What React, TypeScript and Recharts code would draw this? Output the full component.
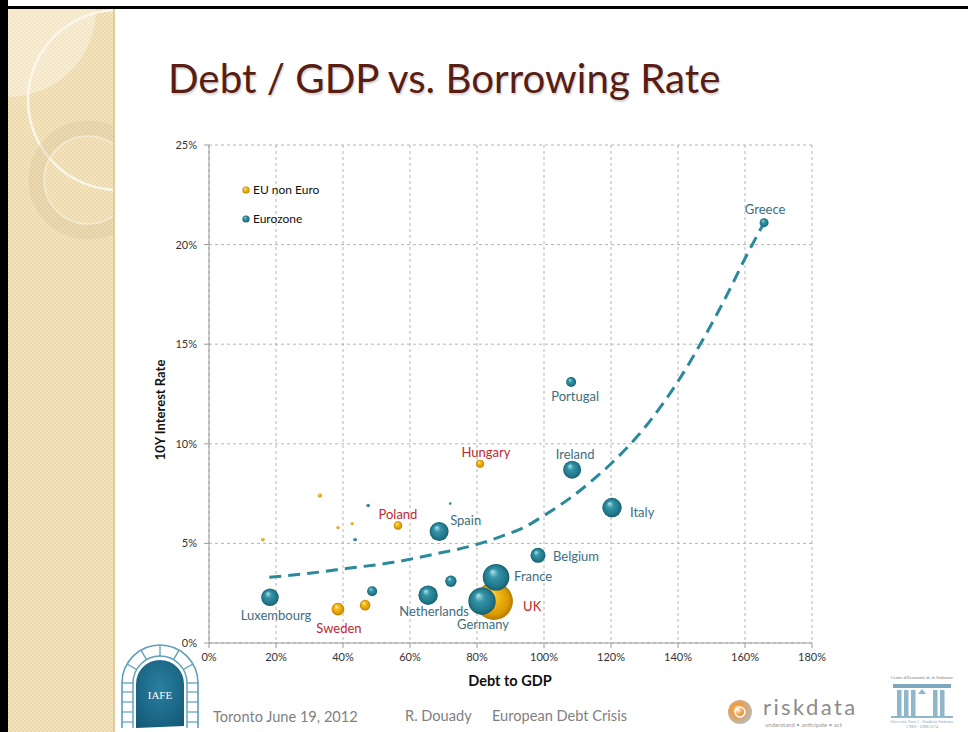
import React from 'react';
import { ComposedChart, Scatter, Line, XAxis, YAxis, ZAxis, CartesianGrid } from 'recharts';

// ---------- data ----------
const euroNames = ['Greece', 'Portugal', 'Ireland', 'Italy', 'Belgium', 'Spain', 'France', 'Germany', 'Netherlands', 'Luxembourg', '', '', '', '', ''];
const euroDebt = [165.7, 108.1, 108.4, 120.3, 98.2, 68.7, 85.7, 81.5, 65.4, 18.2, 72.2, 48.7, 47.5, 43.6, 72.0];
const euroRate = [21.1, 13.1, 8.7, 6.8, 4.4, 5.6, 3.3, 2.1, 2.4, 2.3, 3.1, 2.6, 6.9, 5.2, 7.0];
const euroWeight = [20, 25, 81, 94, 56, 90, 177, 188, 94, 77, 32, 25, 3, 3.2, 1.5];

const nonEuroNames = ['UK', 'Hungary', 'Poland', 'Sweden', '', '', '', '', ''];
const nonEuroDebt = [85.1, 80.9, 56.4, 38.5, 46.6, 33.1, 16.1, 38.5, 42.7];
const nonEuroRate = [2.1, 9.0, 5.9, 1.7, 1.9, 7.4, 5.2, 5.8, 6.0];
const nonEuroWeight = [353, 16, 18, 40, 28, 4, 3, 2.3, 2.3];

const trendDebt = [18, 30, 41.5, 55, 67, 80, 88, 94, 100, 108, 114, 120, 128, 135, 141, 148, 155, 160, 165.7];
const trendRate = [3.3, 3.5, 3.75, 4.05, 4.45, 4.95, 5.4, 5.8, 6.4, 7.3, 8.1, 9.0, 10.4, 11.9, 13.4, 15.4, 17.6, 19.3, 21.1];

const xTicks = [0, 20, 40, 60, 80, 100, 120, 140, 160, 180];
const yTicks = [0, 5, 10, 15, 20, 25];

const euroData = euroNames.map((name, i) => ({ name, x: euroDebt[i], y: euroRate[i], z: euroWeight[i] }));
const nonEuroData = nonEuroNames.map((name, i) => ({ name, x: nonEuroDebt[i], y: nonEuroRate[i], z: nonEuroWeight[i] }));
const trendData = trendDebt.map((x, i) => ({ x, y: trendRate[i] }));

// ---------- styles ----------
const FONT = 'Lato, "Open Sans", sans-serif';
const TEAL_LINE = '#2a8a9b';
const TEAL_TEXT = '#3d6e80';
const RED_TEXT = '#c2272d';

const LABELS: Record<string, { dx: number; dy: number; anchor: 'start' | 'middle' | 'end' }> = {
  Greece: { dx: 1, dy: -14, anchor: 'middle' },
  Portugal: { dx: 4, dy: 14, anchor: 'middle' },
  Ireland: { dx: 3, dy: -16, anchor: 'middle' },
  Italy: { dx: 18, dy: 4, anchor: 'start' },
  Belgium: { dx: 15, dy: 1, anchor: 'start' },
  Spain: { dx: 11, dy: -11, anchor: 'start' },
  France: { dx: 18, dy: -1, anchor: 'start' },
  Germany: { dx: 1, dy: 23, anchor: 'middle' },
  Netherlands: { dx: 6, dy: 16, anchor: 'middle' },
  Luxembourg: { dx: 6, dy: 18, anchor: 'middle' },
  UK: { dx: 29, dy: 5, anchor: 'start' },
  Sweden: { dx: 1, dy: 19, anchor: 'middle' },
  Poland: { dx: 0, dy: -11, anchor: 'middle' },
  Hungary: { dx: 6, dy: -12, anchor: 'middle' },
};

const makeBubble = (grad: string, textColor: string) => (props: any) => {
  const { cx, cy, width, payload } = props;
  if (cx == null || cy == null) return <g />;
  const r = Math.max((width || 2) / 2, 1.2);
  const lab = payload && LABELS[payload.name];
  return (
    <g>
      <circle cx={cx} cy={cy} r={r} fill={`url(#${grad})`} />
      {lab && (
        <text
          x={cx + lab.dx}
          y={cy + lab.dy}
          textAnchor={lab.anchor}
          dominantBaseline="central"
          fill={textColor}
          fontSize={13}
          fontFamily={FONT}
        >
          {payload.name}
        </text>
      )}
    </g>
  );
};

const TealBubble = makeBubble('gradTeal', TEAL_TEXT);
const GoldBubble = makeBubble('gradGold', RED_TEXT);

const Background = () => (
  <svg width={968} height={732} style={{ position: 'absolute', left: 0, top: 0 }}>
    <defs>
      <pattern id="chk" width={4} height={4} patternUnits="userSpaceOnUse">
        <rect width={4} height={4} fill="#f4e5c0" />
        <rect width={2} height={2} fill="#ebd8ab" />
        <rect x={2} y={2} width={2} height={2} fill="#ebd8ab" />
      </pattern>
      <clipPath id="panelClip">
        <rect x={8} y={9} width={107} height={723} />
      </clipPath>
      <radialGradient id="iafeDoor" cx="0.5" cy="0.4" r="0.7">
        <stop offset="0" stopColor="#2a7fa0" />
        <stop offset="1" stopColor="#145a78" />
      </radialGradient>
      <radialGradient id="rdLogo" cx="0.4" cy="0.4" r="0.6">
        <stop offset="0" stopColor="#ffffff" />
        <stop offset="0.35" stopColor="#f39a3c" />
        <stop offset="1" stopColor="#b8b8b8" />
      </radialGradient>
    </defs>
    <rect x={0} y={0} width={968} height={732} fill="#ffffff" />
    <rect x={8} y={9} width={107} height={723} fill="url(#chk)" />
    <g clipPath="url(#panelClip)">
      <circle cx={8} cy={9} r={88} fill="#faf2de" opacity={0.6} />
      <circle cx={118} cy={100} r={90} fill="none" stroke="#fbf6ea" strokeWidth={2.5} />
      <circle cx={88} cy={180} r={52} fill="none" stroke="#d8c39a" strokeWidth={15} opacity={0.35} />
      <circle cx={88} cy={180} r={44} fill="none" stroke="#f8efda" strokeWidth={1.5} opacity={0.7} />
    </g>
    <rect x={113} y={9} width={2} height={723} fill="#e0cc9e" />
    <rect x={0} y={6} width={968} height={3} fill="#000" />
    <rect x={0} y={0} width={8} height={732} fill="#000" />

    {/* IAFE logo */}
    <g>
      <path d="M136,728 L136,684 A24,24 0 0 1 184,684 L184,726 Z" fill="url(#iafeDoor)" />
      <path d="M122,728 L122,683 A38,38 0 0 1 198,683 L198,728" fill="none" stroke="#5d9fb8" strokeWidth={1.6} />
      <path d="M133,728 L133,683 A27,27 0 0 1 187,683 L187,728" fill="none" stroke="#5d9fb8" strokeWidth={1.4} />
      {[0, 1, 2, 3, 4, 5, 6].map((k) => {
        const a = Math.PI - (k * Math.PI) / 6;
        return (
          <line
            key={k}
            x1={160 + 27 * Math.cos(a)}
            y1={683 - 27 * Math.sin(a)}
            x2={160 + 38 * Math.cos(a)}
            y2={683 - 38 * Math.sin(a)}
            stroke="#5d9fb8"
            strokeWidth={1.3}
          />
        );
      })}
      {[692, 702, 712, 722].map((yy) => (
        <g key={yy}>
          <line x1={122} y1={yy} x2={133} y2={yy} stroke="#5d9fb8" strokeWidth={1.2} />
          <line x1={187} y1={yy} x2={198} y2={yy} stroke="#5d9fb8" strokeWidth={1.2} />
        </g>
      ))}
      <text x={160} y={699} textAnchor="middle" fill="#ffffff" fontSize={11} fontFamily="'Liberation Serif', serif">IAFE</text>
    </g>

    {/* footer */}
    <text x={213} y={722} fill="#7f7f7f" fontSize={14.6} fontFamily={FONT}>Toronto June 19, 2012</text>
    <text x={405} y={721} fill="#7f7f7f" fontSize={14.6} fontFamily={FONT}>R. Douady</text>
    <text x={492} y={721} fill="#7f7f7f" fontSize={14.6} fontFamily={FONT}>European Debt Crisis</text>

    {/* riskdata logo */}
    <circle cx={740} cy={712} r={12} fill="url(#rdLogo)" />
    <circle cx={740} cy={712} r={5} fill="none" stroke="#ffffff" strokeWidth={1.5} />
    <text x={763} y={715} fill="#8c8c8c" fontSize={22} fontFamily={FONT} letterSpacing={2.4}>riskdata</text>
    <text x={765} y={727} fill="#9a9a9a" fontSize={6} fontFamily={FONT}>understand • anticipate • act</text>

    {/* Sorbonne logo */}
    <text x={922} y={679} textAnchor="middle" fill="#777" fontSize={4.5} fontFamily="'Liberation Serif', serif">Centre d'Economie de la Sorbonne</text>
    <rect x={893} y={684} width={58} height={4} fill="#7fa8be" />
    {[897, 904, 911, 933, 940].map((xx) => (
      <rect key={xx} x={xx} y={690} width={4.5} height={26} fill="#8fb6ca" />
    ))}
    <path d="M918,694 L926,694 L922,689 Z" fill="#8fb6ca" />
    <rect x={891} y={716} width={62} height={2} fill="#8fb6ca" />
    <text x={922} y={723} textAnchor="middle" fill="#7fa8be" fontSize={4} fontFamily="'Liberation Serif', serif">Université Paris 1 - Panthéon Sorbonne</text>
    <text x={922} y={728} textAnchor="middle" fill="#7fa8be" fontSize={4} fontFamily="'Liberation Serif', serif">CNRS - UMR 8174</text>
  </svg>
);

export default function App() {
  return (
    <div style={{ position: 'absolute', left: 0, top: 0, width: 968, height: 732, overflow: 'hidden', fontFamily: FONT }}>
      <Background />
      <div
        style={{
          position: 'absolute',
          left: 168,
          top: 52,
          fontSize: 40.3,
          color: '#5a1d13',
          fontFamily: FONT,
          whiteSpace: 'nowrap',
          textShadow: '1px 2px 2px rgba(0,0,0,0.18)',
          lineHeight: '52px',
        }}
      >
        Debt / GDP vs. Borrowing Rate
      </div>
      <div style={{ position: 'absolute', left: 0, top: 0 }}>
        <ComposedChart width={968} height={732} margin={{ top: 145, right: 156, bottom: 59, left: 169 }}>
          <defs>
            <radialGradient id="gradTeal" cx="0.5" cy="0.5" r="0.5" fx="0.36" fy="0.28">
              <stop offset="0" stopColor="#b5e3ea" />
              <stop offset="0.35" stopColor="#3595a8" />
              <stop offset="0.8" stopColor="#21778a" />
              <stop offset="1" stopColor="#1a5e6e" />
            </radialGradient>
            <radialGradient id="gradGold" cx="0.5" cy="0.5" r="0.5" fx="0.36" fy="0.28">
              <stop offset="0" stopColor="#fff3b0" />
              <stop offset="0.35" stopColor="#f5bd1c" />
              <stop offset="0.8" stopColor="#dc9a00" />
              <stop offset="1" stopColor="#b47a00" />
            </radialGradient>
          </defs>
          <CartesianGrid stroke="#b5b5b5" strokeDasharray="3 3" />
          <XAxis
            type="number"
            dataKey="x"
            domain={[0, 180]}
            ticks={xTicks}
            tickFormatter={(v: number) => `${v}%`}
            height={30}
            axisLine={{ stroke: '#9a9a9a' }}
            tickLine={{ stroke: '#9a9a9a' }}
            tickSize={5}
            tickMargin={5}
            tick={{ fontSize: 11, fill: '#333', fontFamily: FONT }}
            allowDataOverflow
          />
          <YAxis
            type="number"
            dataKey="y"
            domain={[0, 25]}
            ticks={yTicks}
            tickFormatter={(v: number) => `${v}%`}
            width={40}
            axisLine={{ stroke: '#9a9a9a' }}
            tickLine={{ stroke: '#9a9a9a' }}
            tickSize={5}
            tickMargin={7}
            tick={{ fontSize: 11, fill: '#333', fontFamily: FONT }}
            allowDataOverflow
          />
          <ZAxis type="number" dataKey="z" domain={[0, 400]} range={[0, 400 * Math.PI]} />
          <Line
            data={trendData}
            dataKey="y"
            type="monotone"
            stroke={TEAL_LINE}
            strokeWidth={3}
            strokeDasharray="12 7"
            dot={false}
            activeDot={false}
            isAnimationActive={false}
          />
          <Scatter data={nonEuroData} shape={GoldBubble} isAnimationActive={false} />
          <Scatter data={euroData} shape={TealBubble} isAnimationActive={false} />
        </ComposedChart>
      </div>

      {/* legend */}
      <div style={{ position: 'absolute', left: 241, top: 181, fontSize: 12, color: '#111', fontFamily: FONT, lineHeight: '18px' }}>
        <div style={{ display: 'flex', alignItems: 'center' }}>
          <svg width={10} height={10} style={{ marginRight: 2 }}>
            <circle cx={5} cy={5} r={3.6} fill="url(#gradGold)" />
          </svg>
          EU non Euro
        </div>
        <div style={{ display: 'flex', alignItems: 'center', marginTop: 11 }}>
          <svg width={10} height={10} style={{ marginRight: 2 }}>
            <circle cx={5} cy={5} r={3.6} fill="url(#gradTeal)" />
          </svg>
          Eurozone
        </div>
      </div>

      {/* axis titles */}
      <div
        style={{
          position: 'absolute',
          left: 160,
          top: 410,
          transform: 'translate(-50%, -50%) rotate(-90deg)',
          fontWeight: 700,
          fontSize: 13,
          color: '#111',
          whiteSpace: 'nowrap',
          fontFamily: FONT,
        }}
      >
        10Y Interest Rate
      </div>
      <div
        style={{
          position: 'absolute',
          left: 510,
          top: 680,
          transform: 'translate(-50%, -50%)',
          fontWeight: 700,
          fontSize: 14.5,
          color: '#111',
          whiteSpace: 'nowrap',
          fontFamily: FONT,
        }}
      >
        Debt to GDP
      </div>
    </div>
  );
}
